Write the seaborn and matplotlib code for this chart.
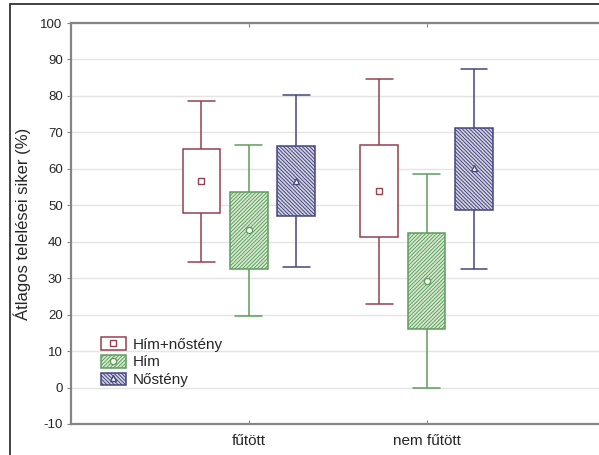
import numpy as np
import pandas as pd
import matplotlib
matplotlib.use("Agg")
import matplotlib.pyplot as plt
from matplotlib.patches import Patch, Rectangle
from matplotlib.lines import Line2D
from matplotlib.legend_handler import HandlerTuple
import seaborn as sns

# Treatment groups and series
groups = ["fűtött", "nem fűtött"]
series = ["Hím+nőstény", "Hím", "Nőstény"]

# Summary statistics per series, one value per group
mean_vals = {
    "Hím+nőstény": [56.7, 53.9],
    "Hím": [43.2, 29.3],
    "Nőstény": [56.7, 60.1],
}
box_low = {
    "Hím+nőstény": [47.8, 41.4],
    "Hím": [32.5, 16.1],
    "Nőstény": [47.1, 48.7],
}
box_high = {
    "Hím+nőstény": [65.4, 66.4],
    "Hím": [53.6, 42.3],
    "Nőstény": [66.3, 71.3],
}
whisker_low = {
    "Hím+nőstény": [34.5, 23.0],
    "Hím": [19.6, 0.0],
    "Nőstény": [33.2, 32.5],
}
whisker_high = {
    "Hím+nőstény": [78.5, 84.7],
    "Hím": [66.4, 58.6],
    "Nőstény": [80.3, 87.4],
}

y_ticks = list(range(-10, 101, 10))
y_label = "Átlagos telelései siker (%)"

line_colors = {"Hím+nőstény": "#94404f", "Hím": "#5c9e5c", "Nőstény": "#45457f"}
face_colors = {"Hím+nőstény": "#ffffff", "Hím": "#dbeBd4", "Nőstény": "#d4d4e2"}
hatches = {"Hím+nőstény": "", "Hím": "/" * 9, "Nőstény": "\\" * 9}
markers = {"Hím+nőstény": "s", "Hím": "o", "Nőstény": "^"}

# Five values per box: the 0/25/50/75/100 percentiles of these reproduce
# whisker ends, box edges and the centre value exactly.
rows = []
for s in series:
    for gi, g in enumerate(groups):
        for v in (whisker_low[s][gi], box_low[s][gi], mean_vals[s][gi],
                  box_high[s][gi], whisker_high[s][gi]):
            rows.append({"csoport": g, "sorozat": s, "érték": v})
df = pd.DataFrame(rows)

sns.set_style("white")
plt.rcParams["font.family"] = ["Liberation Sans", "DejaVu Sans"]
plt.rcParams["hatch.linewidth"] = 0.7

fig = plt.figure(figsize=(5.99, 4.55), dpi=100)
ax = fig.add_axes([71 / 599, 1 - 424 / 455, 533.4 / 599, 401 / 455])

for s in series:
    sub = df[df["sorozat"] == s]
    sns.boxplot(
        data=sub, x="csoport", y="érték", hue="sorozat",
        order=groups, hue_order=series, dodge=True,
        palette=[face_colors[k] for k in series],
        saturation=1, width=0.8, gap=0.21, whis=(0, 100),
        linecolor=line_colors[s], linewidth=1.1,
        medianprops={"visible": False},
        capwidths=0.15,
        legend=False, ax=ax,
    )
    for p in ax.patches:
        if p.get_gid() is None:
            p.set_gid(s)
            p.set_hatch(hatches[s])
            p.set_edgecolor(line_colors[s])

# Centre markers (the middle value of each five-value set)
sns.pointplot(
    data=df, x="csoport", y="érték", hue="sorozat",
    order=groups, hue_order=series,
    palette=[line_colors[k] for k in series],
    estimator="median", errorbar=None, dodge=0.8 / 3 * 2,
    markers=[markers[k] for k in series], linestyle="none",
    markersize=4.5, markeredgewidth=1.0, markerfacecolor="white",
    legend=False, ax=ax,
)

ax.set_xlim(-1, 2)
ax.set_ylim(-10, 100)
ax.set_yticks(y_ticks)
ax.set_yticklabels([str(t) for t in y_ticks], fontsize=9.5)
ax.set_xticks(range(len(groups)))
ax.set_xticklabels(groups, fontsize=11)
ax.set_xlabel("")
ax.set_ylabel(y_label, fontsize=12, labelpad=7)

ax.grid(axis="y", color="#e4e4e4", linewidth=1.0)
ax.set_axisbelow(True)
for side in ("left", "top", "bottom", "right"):
    ax.spines[side].set_color("#858585")
    ax.spines[side].set_linewidth(1.6)
ax.tick_params(axis="y", direction="out", length=3, color="#858585", pad=3, left=True)
ax.tick_params(axis="x", direction="in", length=3, color="#858585", pad=7,
               bottom=True, top=True)

# Legend: box swatch with the series marker drawn on top
handles = []
for s in series:
    patch = Patch(facecolor=face_colors[s], edgecolor=line_colors[s],
                  hatch=hatches[s], linewidth=1.1)
    mk = Line2D([], [], linestyle="none", marker=markers[s], markersize=4.5,
                markerfacecolor="white", markeredgecolor=line_colors[s],
                markeredgewidth=1.0)
    handles.append((patch, mk))
leg = ax.legend(
    handles, series, handler_map={tuple: HandlerTuple(ndivide=1, pad=0)},
    loc="upper left", bbox_to_anchor=(101 / 599, 1 - 337 / 455),
    bbox_transform=fig.transFigure, frameon=False, fontsize=11,
    handlelength=1.63, handleheight=0.92, handletextpad=0.45,
    labelspacing=0.2, borderpad=0, borderaxespad=0,
)

# Thin outer frame of the figure
fig.add_artist(Rectangle((10 / 599, -0.05), 1.0, 1.05 - 4 / 455,
                         transform=fig.transFigure, fill=False,
                         edgecolor="#222222", linewidth=1.2))

fig.savefig("out.png", dpi=100)
